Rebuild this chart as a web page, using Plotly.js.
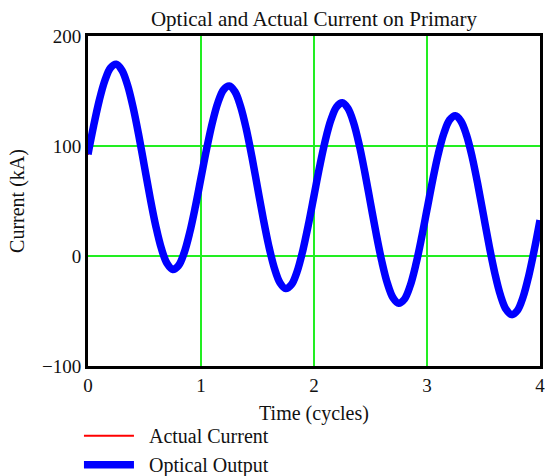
<!DOCTYPE html>
<html>
<head>
<meta charset="utf-8">
<script src="https://cdn.plot.ly/plotly-3.0.1.min.js"></script>
<style>html,body{margin:0;padding:0;background:#fff;}#chart{width:545px;height:476px;}</style>
</head>
<body>
<div id="chart"></div>
<script>
var time = [0,0.05,0.1,0.15,0.2,0.25,0.3,0.35,0.4,0.45,0.5,0.55,0.6,0.65,0.7,0.75,0.8,0.85,0.9,0.95,
  1,1.05,1.1,1.15,1.2,1.25,1.3,1.35,1.4,1.45,1.5,1.55,1.6,1.65,1.7,1.75,1.8,1.85,1.9,1.95,
  2,2.05,2.1,2.15,2.2,2.25,2.3,2.35,2.4,2.45,2.5,2.55,2.6,2.65,2.7,2.75,2.8,2.85,2.9,2.95,
  3,3.05,3.1,3.15,3.2,3.25,3.3,3.35,3.4,3.45,3.5,3.55,3.6,3.65,3.7,3.75,3.8,3.85,3.9,3.95,4];
var actualCurrent = [92,118,141.3,159.6,171,174.1,168.7,155.1,134.5,108.9,80.7,52.4,26.9,6.4,-7.1,-12.4,-9.1,2.4,20.9,44.5,
  70.8,97.1,120.7,139.3,150.9,154.3,149.2,135.8,115.5,90.1,62.1,34.1,8.8,-11.4,-24.7,-29.8,-26.3,-14.5,4.2,28,
  54.5,81,104.8,123.6,135.4,139.1,134.1,121,100.8,75.6,47.8,20,-5.1,-25.2,-38.3,-43.2,-39.5,-27.6,-8.7,15.3,
  41.9,68.6,92.6,111.5,123.5,127.3,122.5,109.5,89.5,64.5,36.8,9.1,-15.8,-35.8,-48.8,-53.5,-49.7,-37.6,-18.5,5.5,32.3];
var opticalOutput = [92.5,118.4,141.6,159.8,171.2,174.3,168.9,155.4,134.8,109.3,81.1,52.8,27.2,6.6,-6.9,-12.2,-8.9,2.6,21.2,44.8,
  71.1,97.4,121,139.5,151.1,154.5,149.4,136.1,115.8,90.4,62.4,34.4,9.1,-11.2,-24.5,-29.6,-26.1,-14.3,4.5,28.3,
  54.8,81.3,105.1,123.8,135.6,139.3,134.3,121.3,101.1,75.9,48.1,20.3,-4.8,-25,-38.1,-43,-39.3,-27.4,-8.4,15.6,
  42.2,68.9,92.9,111.7,123.7,127.5,122.7,109.8,89.8,64.8,37.1,9.4,-15.5,-35.6,-48.6,-53.3,-49.5,-37.4,-18.2,5.8,32.6];
var xTicks = [0,1,2,3,4];
var yTicks = [-100,0,100,200];

var serif = '"Liberation Serif", "Times New Roman", serif';

var traces = [
  {x: time, y: actualCurrent, name: '\u2002Actual Current', type: 'scatter', mode: 'lines',
   line: {color: '#ff0000', width: 2, shape: 'spline'}},
  {x: time, y: opticalOutput, name: '\u2002Optical Output', type: 'scatter', mode: 'lines',
   line: {color: '#0000ff', width: 7.5, shape: 'spline'}}
];

var layout = {
  width: 545, height: 476,
  margin: {l: 88, r: 5, t: 36, b: 110, autoexpand: false},
  paper_bgcolor: '#ffffff', plot_bgcolor: '#ffffff',
  font: {family: serif, size: 19, color: '#111'},
  title: {text: 'Optical and Actual Current on Primary', font: {family: serif, size: 21, color: '#111'},
          x: 0.576, xanchor: 'center', y: 0.96, yanchor: 'middle'},
  xaxis: {range: [0, 4], tickvals: xTicks, ticktext: xTicks.map(String), showgrid: true,
          gridcolor: '#22ee22', gridwidth: 2, zeroline: false, showline: true, mirror: true,
          linecolor: '#000', linewidth: 3, ticks: '', fixedrange: true, ticklabeloverflow: 'allow',
          automargin: false,
          title: {text: 'Time (cycles)', font: {family: serif, size: 20, color: '#111'}, standoff: 12}},
  yaxis: {range: [-100, 200], tickvals: yTicks, ticktext: ['\u2212100','0','100','200'], showgrid: true,
          gridcolor: '#22ee22', gridwidth: 2, zeroline: false, showline: true, mirror: true,
          linecolor: '#000', linewidth: 3, ticks: '', fixedrange: true, automargin: false,
          title: {text: 'Current (kA)', font: {family: serif, size: 20, color: '#111'}, standoff: 12}},
  showlegend: true,
  legend: {x: -0.02, xanchor: 'left', y: -0.152, yanchor: 'top', orientation: 'v',
           font: {family: serif, size: 20, color: '#111'}, itemwidth: 50, bgcolor: 'rgba(0,0,0,0)',
           traceorder: 'normal'}
};

Plotly.newPlot('chart', traces, layout, {displayModeBar: false, staticPlot: true});
</script>
</body>
</html>
